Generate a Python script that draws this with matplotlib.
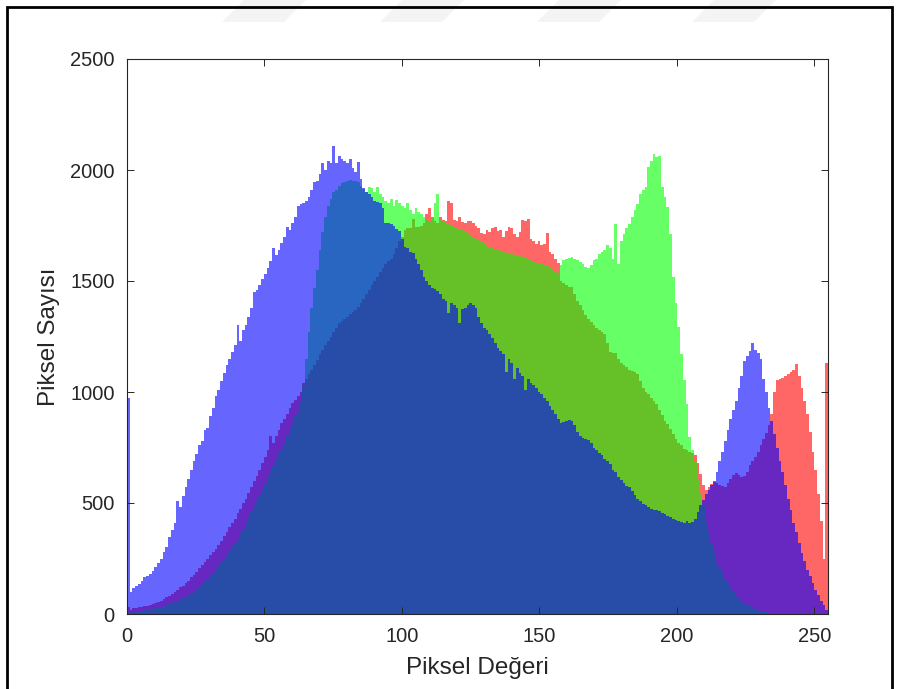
import numpy as np
import matplotlib
matplotlib.use('Agg')
import matplotlib.pyplot as plt
from matplotlib.patches import Rectangle, Polygon

# Histogram counts for each channel, one value per intensity level 0..255
red_counts = [
    30, 20, 25, 28, 30, 32, 35, 38, 40, 45,
    50, 55, 60, 68, 75, 82, 90, 100, 110, 120,
    125, 140, 150, 165, 175, 190, 205, 220, 235, 250,
    265, 280, 295, 310, 330, 350, 370, 390, 410, 430,
    455, 475, 500, 520, 545, 570, 600, 620, 650, 680,
    705, 740, 800, 770, 800, 830, 860, 880, 900, 930,
    950, 965, 980, 1000, 1040, 1060, 1080, 1100, 1120, 1145,
    1170, 1190, 1210, 1230, 1250, 1270, 1290, 1310, 1320, 1330,
    1340, 1350, 1360, 1370, 1385, 1400, 1420, 1440, 1460, 1480,
    1500, 1520, 1540, 1560, 1575, 1590, 1600, 1620, 1650, 1680,
    1700, 1730, 1740, 1740, 1780, 1745, 1745, 1750, 1760, 1800,
    1830, 1790, 1770, 1760, 1790, 1775, 1770, 1860, 1850, 1775,
    1770, 1790, 1765, 1760, 1770, 1770, 1760, 1750, 1740, 1715,
    1710, 1730, 1720, 1740, 1745, 1725, 1730, 1700, 1725, 1745,
    1740, 1710, 1700, 1720, 1775, 1770, 1780, 1690, 1680, 1668,
    1680, 1660, 1665, 1715, 1630, 1620, 1600, 1580, 1500, 1490,
    1480, 1475, 1473, 1440, 1410, 1390, 1370, 1345, 1330, 1315,
    1300, 1290, 1280, 1270, 1263, 1220, 1180, 1175, 1175, 1150,
    1130, 1120, 1113, 1100, 1095, 1090, 1083, 1050, 1020, 1000,
    990, 975, 960, 948, 920, 895, 870, 858, 835, 813,
    790, 770, 760, 745, 738, 730, 725, 715, 680, 630,
    580, 560, 570, 585, 595, 590, 580, 575, 572, 590,
    610, 625, 635, 625, 615, 620, 640, 670, 690, 705,
    730, 760, 790, 815, 850, 900, 1000, 1055, 1060, 1065,
    1070, 1080, 1090, 1100, 1125, 1070, 1020, 960, 900, 820,
    730, 650, 540, 420, 250, 1130,
]

green_counts = [
    10, 5, 8, 10, 12, 14, 16, 18, 20, 22,
    25, 28, 32, 36, 40, 45, 50, 55, 60, 65,
    70, 78, 86, 95, 103, 112, 122, 133, 145, 157,
    170, 185, 200, 215, 232, 250, 268, 285, 305, 322,
    340, 360, 385, 410, 435, 460, 485, 510, 537, 563,
    590, 615, 640, 665, 692, 720, 745, 770, 800, 830,
    860, 890, 910, 960, 1030, 1150, 1270, 1380, 1470, 1550,
    1640, 1720, 1790, 1840, 1870, 1900, 1910, 1930, 1940, 1945,
    1950, 1955, 1950, 1950, 1945, 1930, 1915, 1900, 1925, 1920,
    1900, 1925, 1890, 1880, 1860, 1850, 1870, 1840, 1865, 1850,
    1840, 1830, 1850, 1820, 1800, 1830, 1810, 1800, 1790, 1780,
    1770, 1790, 1850, 1893, 1780, 1770, 1760, 1755, 1750, 1745,
    1740, 1735, 1730, 1720, 1712, 1705, 1695, 1690, 1685, 1675,
    1668, 1660, 1655, 1650, 1642, 1638, 1635, 1632, 1628, 1625,
    1622, 1618, 1615, 1612, 1610, 1606, 1600, 1595, 1588, 1582,
    1578, 1575, 1570, 1567, 1563, 1555, 1545, 1535, 1570, 1595,
    1600, 1605, 1610, 1600, 1595, 1585, 1575, 1565, 1560, 1570,
    1593, 1600, 1623, 1630, 1638, 1661, 1650, 1600, 1758, 1578,
    1680, 1713, 1740, 1758, 1790, 1820, 1848, 1893, 1910, 1923,
    2013, 2040, 2073, 2060, 2065, 1923, 1880, 1833, 1713, 1518,
    1400, 1293, 1170, 1053, 948, 798, 738, 690, 610, 540,
    490, 420, 370, 320, 280, 240, 210, 180, 155, 135,
    115, 100, 85, 72, 60, 50, 42, 35, 28, 22,
    18, 14, 11, 8, 6, 4, 3, 3, 2, 2,
    2, 1, 1, 1, 1, 1, 0, 0, 0, 0,
    0, 0, 0, 0, 0, 0,
]

blue_counts = [
    975, 100, 115, 125, 135, 150, 165, 170, 180, 195,
    210, 230, 250, 280, 300, 345, 380, 410, 510, 480,
    530, 570, 610, 650, 690, 720, 760, 780, 830, 840,
    890, 930, 980, 1010, 1050, 1085, 1120, 1150, 1180, 1210,
    1300, 1230, 1280, 1300, 1340, 1380, 1450, 1460, 1480, 1510,
    1530, 1560, 1590, 1650, 1615, 1640, 1670, 1700, 1745, 1730,
    1760, 1790, 1840, 1845, 1850, 1860, 1880, 1910, 1945, 1950,
    1980, 2030, 2000, 2040, 2030, 2110, 2030, 2065, 2050, 2040,
    2030, 2050, 2010, 1990, 2035, 1960, 1920, 1900, 1890, 1880,
    1860, 1855, 1850, 1830, 1760, 1760, 1755, 1750, 1735, 1725,
    1690, 1655, 1650, 1630, 1625, 1600, 1575, 1550, 1520, 1500,
    1480, 1470, 1465, 1455, 1440, 1420, 1410, 1355, 1400, 1390,
    1380, 1310, 1375, 1380, 1390, 1400, 1390, 1380, 1340, 1310,
    1290, 1280, 1260, 1245, 1220, 1200, 1185, 1170, 1090, 1150,
    1130, 1060, 1110, 1085, 1070, 1010, 1060, 1040, 1030, 1020,
    1000, 990, 975, 960, 935, 920, 900, 880, 860, 865,
    870, 875, 870, 850, 820, 800, 795, 790, 785, 770,
    750, 740, 725, 715, 700, 690, 675, 650, 640, 615,
    605, 590, 575, 570, 555, 535, 520, 510, 495, 490,
    480, 475, 470, 470, 465, 455, 450, 440, 435, 430,
    425, 420, 415, 410, 420, 410, 415, 430, 460, 490,
    515, 540, 560, 580, 600, 640, 690, 730, 780, 830,
    880, 920, 960, 1020, 1070, 1140, 1160, 1185, 1220, 1190,
    1175, 1150, 1060, 1000, 930, 870, 810, 750, 690, 640,
    580, 520, 470, 410, 370, 320, 275, 240, 200, 170,
    140, 110, 85, 60, 40, 20,
]

# 256 equal-width bins spanning 0..255
edges = np.linspace(0, 255, 257)

plt.rcParams['font.family'] = ['Liberation Sans', 'DejaVu Sans']
text_color = '#262626'

fig = plt.figure(figsize=(9, 6.89), dpi=100)

# faint slanted stamp marks along the top edge of the page
for x0 in (222, 380, 537, 692):
    pts = [(x0 / 900, 1 - 22 / 689), ((x0 + 62) / 900, 1 - 22 / 689),
           ((x0 + 84) / 900, 1.0), ((x0 + 22) / 900, 1.0)]
    fig.add_artist(Polygon(pts, closed=True, transform=fig.transFigure,
                           facecolor='#f4f4f4', edgecolor='none'))

ax = fig.add_axes([127 / 900, 1 - 614 / 689, 701 / 900, 555 / 689])

# overlaid channel histograms, drawn red -> green -> blue
for counts, color in ((red_counts, 'red'), (green_counts, 'lime'), (blue_counts, 'blue')):
    ax.stairs(counts, edges, fill=True, color=color, alpha=0.6, linewidth=0)

ax.set_xlim(0, 255)
ax.set_ylim(0, 2500)
ax.set_xticks(np.arange(0, 251, 50))
ax.set_yticks(np.arange(0, 2501, 500))
ax.tick_params(direction='in', top=True, right=True, length=5, width=0.7,
               colors=text_color, labelsize=14.5)
ax.tick_params(axis='x', pad=9)
ax.tick_params(axis='y', pad=9)
for spine in ax.spines.values():
    spine.set_color(text_color)
    spine.set_linewidth(0.8)

ax.set_xlabel('Piksel Değeri', fontsize=17.5, color=text_color, labelpad=8)
ax.set_ylabel('Piksel Sayısı', fontsize=17.5, color=text_color, labelpad=7)

# outer frame around the figure
fig.add_artist(Rectangle((7 / 900, -0.02), 885 / 900, 1.02 - 7 / 689,
                         transform=fig.transFigure, fill=False,
                         edgecolor='black', linewidth=2))

fig.savefig('out.png', dpi=100)
